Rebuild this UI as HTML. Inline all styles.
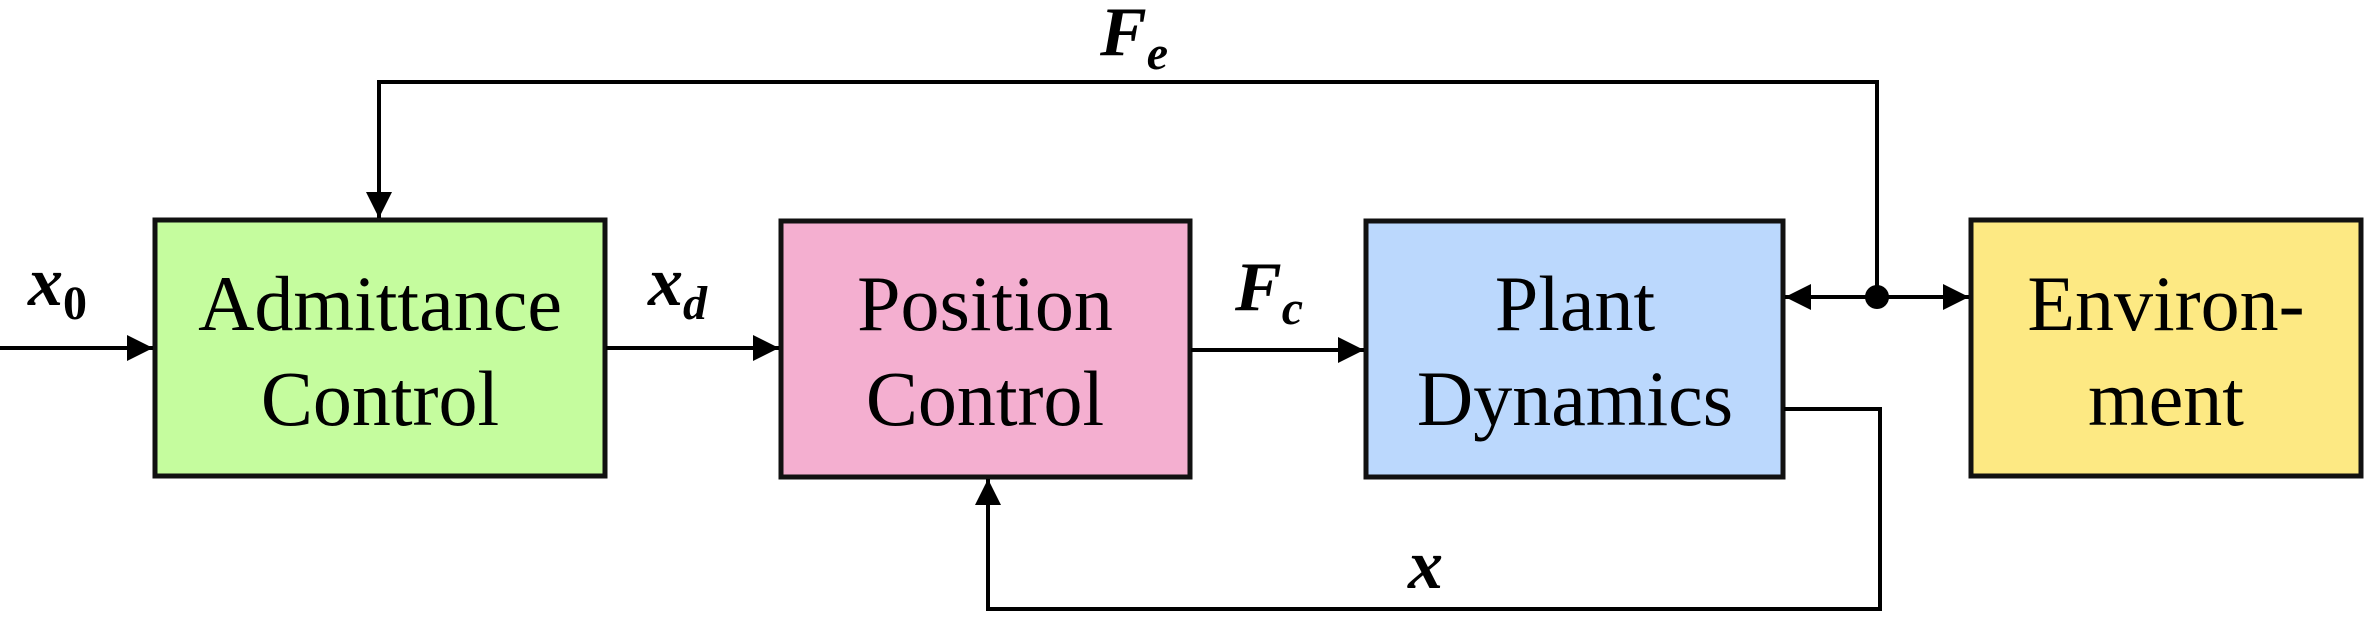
<!DOCTYPE html>
<html><head><style>body{margin:0;background:#fff}</style></head><body>
<svg width="2364" height="614" viewBox="0 0 2364 614" xmlns="http://www.w3.org/2000/svg">
<defs>
<marker id="b" viewBox="0 0 10 10" refX="10" refY="5" markerWidth="26" markerHeight="26" markerUnits="userSpaceOnUse" orient="auto"><path d="M0,0L10,5L0,10z" fill="#000"/></marker></defs>
<g stroke="#111" stroke-width="5">
<rect x="155" y="220" width="450" height="256" fill="#c5fc9e"/>
<rect x="781" y="221" width="409" height="256" fill="#f4afd0"/>
<rect x="1366" y="221" width="417" height="256" fill="#bbd8fd"/>
<rect x="1971" y="220" width="390" height="256" fill="#fde983"/>
</g>
<g stroke="#000" stroke-width="4" fill="none">
<path d="M0,348H153" marker-end="url(#b)"/>
<path d="M606,348H779" marker-end="url(#b)"/>
<path d="M1191,350H1364" marker-end="url(#b)"/>
<path d="M1877,297H1969" marker-end="url(#b)"/>
<path d="M1877,297H1785" marker-end="url(#b)"/>
<path d="M1877,297V82H379V218" marker-end="url(#b)"/>
<path d="M1784,409H1880V609H988V479" marker-end="url(#b)"/>
</g>
<circle cx="1877" cy="297" r="12" fill="#000"/>
<g font-family="Liberation Serif, serif" font-size="78" text-anchor="middle" fill="#000">
<text x="380" y="330">Admittance</text><text x="380" y="425">Control</text>
<text x="985" y="330">Position</text><text x="985" y="425">Control</text>
<text x="1575" y="330">Plant</text><text x="1575" y="425">Dynamics</text>
<text x="2166" y="330">Environ-</text><text x="2166" y="425">ment</text>
</g>
<g font-family="Liberation Serif, serif" font-weight="bold" font-style="italic" fill="#000">
<text x="28" y="305" font-size="70">x<tspan font-size="48" font-style="normal" dy="14">0</tspan></text>
<text x="648" y="305" font-size="70">x<tspan font-size="48" dy="14">d</tspan></text>
<text x="1235" y="310" font-size="70">F<tspan font-size="48" dy="14">c</tspan></text>
<text x="1100" y="55" font-size="70">F<tspan font-size="48" dy="14">e</tspan></text>
<text x="1408" y="588" font-size="70">x</text>
</g>
</svg>
</body></html>
